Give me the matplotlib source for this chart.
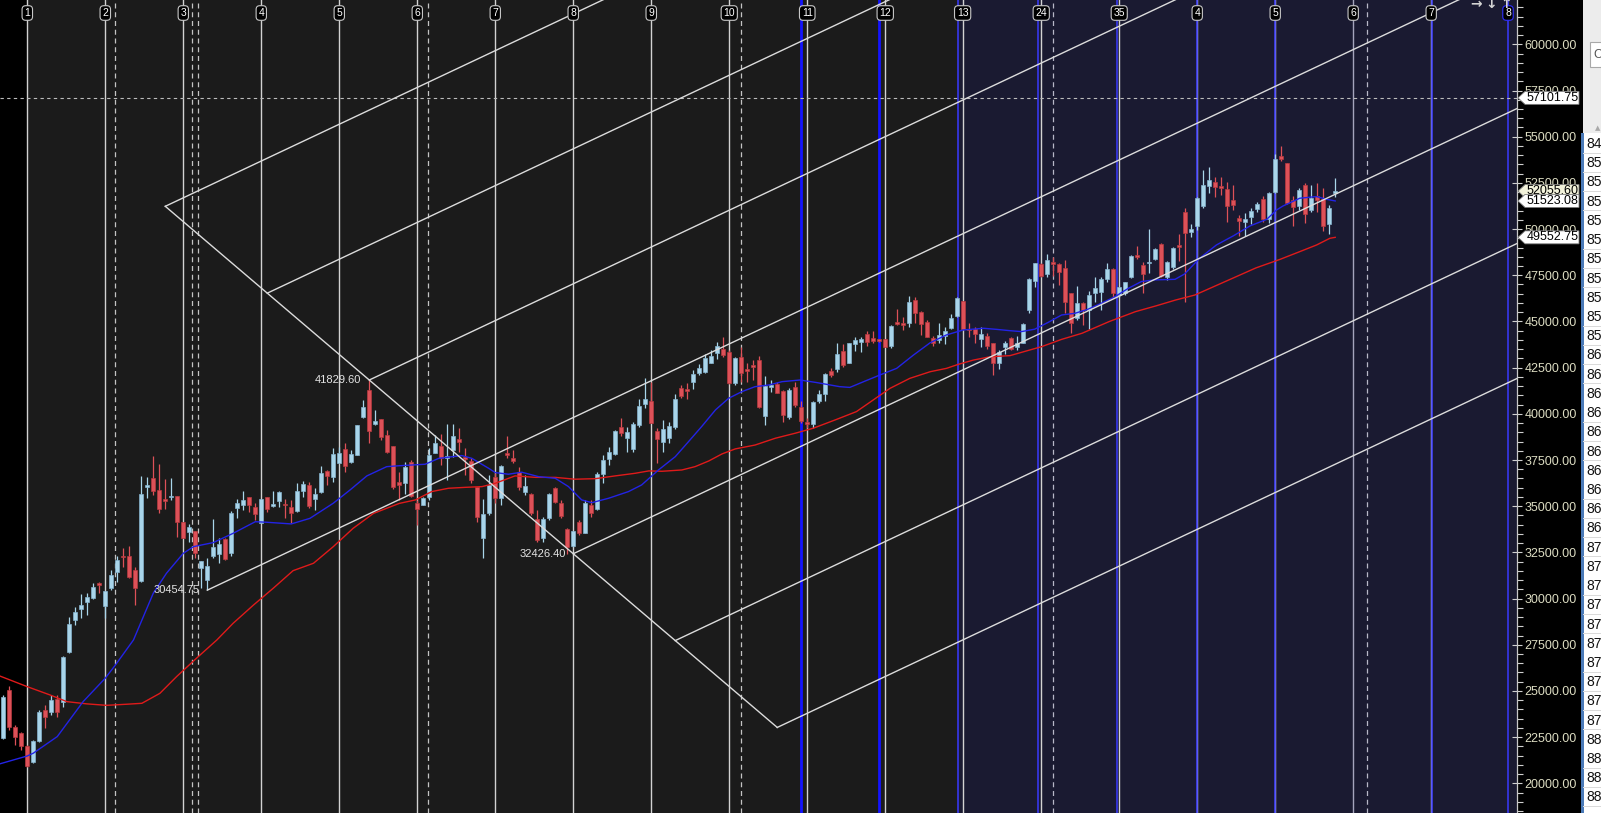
import numpy as np
import matplotlib
matplotlib.use("Agg")
import matplotlib.pyplot as plt
from matplotlib.patches import Polygon, Rectangle
from matplotlib.transforms import blended_transform_factory
from matplotlib.ticker import FormatStrFormatter, MultipleLocator

plt.rcParams['font.family'] = ['Liberation Sans', 'DejaVu Sans']

# ---- OHLC per bar ----
opens = [22440, 25050, 23030, 22710, 22040, 21170, 22310, 23970, 23880, 24570,
         24420, 27090, 28840, 29440, 29830, 30050, 30830, 29620, 30560, 31460,
         32300, 32300, 31550, 30950, 36060, 36510, 35880, 35390, 35480, 35550,
         34150, 33620, 33660, 31640, 30990, 32320, 32400, 33210, 32450, 34890,
         35070, 35480, 34940, 34110, 35480, 35030, 35300, 35100, 34940, 34760,
         35820, 36130, 35390, 35790, 36920, 36600, 37360, 38080, 37410, 37770,
         39810, 41300, 39430, 39720, 38850, 38260, 36330, 36240, 37380, 35160,
         35070, 35520, 37900, 38260, 37590, 38040, 38620, 37680, 37450, 36020,
         33300, 34650, 36560, 35460, 37900, 37590, 36870, 35790, 35660, 34290,
         33260, 34350, 35970, 35160, 33770, 32850, 34130, 33570, 35070, 34830,
         36740, 37560, 37830, 39310, 38710, 38080, 39400, 40530, 40700, 39070,
         38460, 38680, 39310, 41380, 41290, 41740, 42190, 42280, 42770, 43280,
         43490, 43370, 41690, 43060, 42430, 42640, 42910, 39880, 41470, 41600,
         41250, 39810, 41430, 40350, 39540, 39430, 40710, 41070, 42340, 42410,
         43420, 42770, 43780, 43910, 44320, 44090, 44030, 44030, 43670, 44990,
         44940, 44940, 46160, 45530, 44990, 44120, 44000, 44230, 44630, 45320,
         46110, 44580, 44580, 44070, 44210, 43820, 42740, 43640, 44090, 43600,
         43850, 45620, 47210, 48110, 47570, 48200, 48090, 47880, 46520, 45170,
         45980, 45620, 46560, 46610, 47320, 47820, 46430, 46520, 47390, 48600,
         48060, 48150, 48360, 49190, 47390, 47930, 49140, 50910, 49830, 50170,
         51250, 52330, 52570, 52330, 52170, 51580, 50600, 50380, 50670, 51090,
         51610, 50530, 52030, 53960, 53580, 51580, 51250, 52390, 51030, 51790,
         51610, 50280, 51970]
highs = [24800, 25270, 23160, 22800, 22060, 22350, 23950, 24240, 24780, 24780,
         26890, 29020, 29560, 30230, 30290, 30860, 30920, 30430, 31550, 32320,
         32720, 32850, 31730, 36640, 36600, 37720, 37280, 36470, 36510, 35560,
         34160, 34020, 33680, 32030, 32180, 34290, 33260, 33260, 34740, 35410,
         35820, 35520, 35190, 35400, 35520, 35820, 35840, 35390, 35340, 36270,
         36360, 36330, 35970, 37190, 36960, 38130, 38220, 38400, 38040, 39420,
         40750, 41830, 40210, 39740, 39120, 38270, 36870, 37410, 37500, 35340,
         35520, 38130, 38860, 38890, 39450, 39450, 39220, 38130, 37590, 36040,
         35370, 36690, 36780, 37230, 38800, 38040, 37140, 36690, 35700, 34800,
         34440, 35730, 36060, 35340, 33800, 33680, 34260, 35340, 35340, 36870,
         37770, 38220, 39130, 39790, 39310, 39580, 40790, 41920, 41740, 39220,
         39670, 39580, 41070, 41560, 41650, 42370, 42680, 43220, 43460, 43910,
         44140, 43460, 43060, 43600, 42730, 42910, 43130, 42050, 41830, 41740,
         41290, 41380, 41740, 40690, 39760, 40690, 41290, 42230, 42460, 43820,
         43780, 43850, 44180, 44140, 44500, 44470, 44070, 44070, 44810, 45660,
         45260, 46380, 46310, 45570, 45080, 44210, 44940, 44720, 45400, 46340,
         46130, 44940, 44720, 44720, 44360, 43850, 43460, 43960, 44140, 44210,
         44940, 47340, 48180, 48150, 48650, 48510, 48150, 48330, 46560, 46920,
         46070, 46670, 47430, 47430, 48150, 47880, 46880, 47160, 48600, 49090,
         48240, 49990, 48960, 49270, 48270, 49050, 49730, 51120, 50260, 51760,
         53200, 53380, 52840, 52800, 52570, 52390, 50760, 50850, 51120, 51480,
         51790, 52030, 54060, 54500, 53600, 51790, 52210, 52480, 52390, 52510,
         52210, 51300, 52750]
lows = [22400, 22890, 22080, 21810, 20900, 21080, 22250, 22980, 23700, 23610,
        24150, 27040, 28570, 28930, 29110, 29960, 30320, 28930, 30470, 30920,
        31730, 31100, 29650, 30920, 35430, 35610, 34650, 34850, 35340, 33350,
        33290, 33080, 32180, 30560, 30455, 32180, 31910, 32090, 32300, 34380,
        34800, 34700, 34250, 34070, 34700, 34980, 34980, 34340, 34110, 34700,
        35520, 34890, 34800, 35730, 36150, 36330, 37320, 36870, 37360, 37750,
        39760, 38440, 39400, 38580, 37860, 35910, 35340, 35660, 35520, 33980,
        35050, 35340, 37860, 37230, 36420, 37680, 37950, 36690, 36240, 34170,
        32180, 34530, 35160, 35070, 37590, 37320, 35880, 35610, 34530, 33080,
        33080, 34260, 35190, 34350, 32426, 32810, 33440, 33530, 34440, 34800,
        36240, 37230, 37770, 38800, 37950, 37950, 39270, 40300, 39490, 37360,
        37950, 38440, 39160, 40840, 40790, 41330, 42100, 42190, 42730, 42950,
        43090, 41620, 41560, 41740, 41740, 41830, 40300, 39400, 41200, 41110,
        39580, 39700, 40350, 39490, 39220, 39250, 40570, 40710, 41980, 42280,
        42550, 42740, 43420, 43370, 43670, 43820, 43890, 43600, 43550, 44810,
        44540, 44680, 44940, 44270, 44140, 43670, 43820, 43780, 44580, 45230,
        44540, 44180, 43820, 43640, 43490, 42100, 42410, 43240, 43460, 43460,
        43820, 45480, 46880, 47430, 47430, 47460, 46970, 45480, 44400, 45080,
        44810, 44580, 46070, 45620, 47160, 46250, 46340, 46430, 47340, 48380,
        46560, 47610, 48330, 47430, 47250, 47820, 48290, 46070, 49550, 49950,
        51120, 51940, 51760, 51850, 50400, 51030, 49630, 49630, 50280, 50940,
        50400, 50350, 51940, 53700, 51360, 50170, 51030, 50310, 50940, 50940,
        49920, 49730, 51760]
closes = [24650, 23030, 22490, 22040, 20960, 22310, 23880, 23570, 24510, 23880,
          26860, 28620, 29270, 29650, 30100, 30610, 30740, 30410, 31280, 32090,
          32230, 31190, 30560, 35640, 36150, 35840, 34830, 35280, 35550, 34160,
          33300, 33880, 32450, 32020, 31760, 32810, 32950, 32140, 34610, 35160,
          35340, 35070, 34580, 35390, 34830, 35100, 35750, 35050, 34610, 35820,
          36180, 35010, 35660, 36780, 36640, 37830, 37900, 37190, 37830, 39400,
          40350, 39090, 39630, 38730, 37950, 36020, 36150, 37100, 35550, 34870,
          35460, 37770, 38400, 37590, 37720, 38800, 38490, 37560, 36420, 34400,
          34580, 36150, 35430, 37180, 37760, 37470, 36060, 36100, 34620, 33170,
          34290, 35660, 35250, 34470, 32780, 33660, 33530, 35160, 34650, 36740,
          37500, 37940, 39050, 38980, 39000, 39450, 40430, 40790, 39520, 38620,
          39160, 39340, 40790, 40970, 41250, 42160, 42500, 43040, 43130, 43670,
          43190, 41650, 43000, 42230, 42340, 42520, 40390, 41510, 41560, 41150,
          39940, 41290, 40480, 39630, 39430, 40620, 41060, 42160, 42100, 43240,
          42650, 43820, 44000, 44050, 43890, 43960, 43930, 43640, 44760, 44860,
          44810, 46070, 45480, 44860, 44180, 43850, 44270, 44500, 45170, 46250,
          44580, 44540, 44320, 44320, 43670, 42770, 43370, 43850, 43490, 43820,
          44860, 47280, 48150, 47480, 48330, 48110, 47700, 46070, 44900, 45980,
          45620, 46430, 46790, 47280, 47820, 46520, 46850, 47120, 48540, 48470,
          47570, 48200, 48910, 47460, 48200, 48960, 49010, 49810, 50010, 51670,
          52390, 52660, 52260, 52210, 51270, 51300, 50460, 50550, 50980, 51360,
          50530, 51970, 53790, 53790, 51430, 51180, 52120, 50800, 51670, 51580,
          50190, 51120, 52056]

# ---- moving averages, sampled along the drawn curves ----
blue_ma_bar = [-0.6, 4, 5, 9, 13.3, 17, 18.7, 21.7, 25, 27.2,
               30, 31.7, 35, 38.3, 42, 43.9, 48, 51.1, 55, 57.8,
               60.6, 63.9, 66, 70.3, 72.6, 76.4, 78.1, 80.9, 82, 84.2,
               86.4, 89.2, 92, 94.2, 96.4, 98.1, 100.9, 104.2, 106.4, 109.2,
               112, 114.2, 116.4, 118.7, 120.9, 123.1, 125.3, 127.6, 129.8, 132.8,
               135.6, 139.4, 141.1, 143.4, 146.1, 148.9, 151.7, 154.5, 157.2, 160,
               163.4, 165.6, 167.8, 169.7, 171.9, 174.1, 176.4, 178.6, 180.8, 183,
               185.3, 187.5, 189.7, 191.9, 195.3, 196.9, 199.4, 202.2, 205, 207.8,
               210.6, 212.2, 213.3, 216.1, 218.9, 220.6, 222]
blue_ma_val = [21050, 21480, 21630, 22530, 24420, 25690, 26410, 27760, 30290, 31370,
               32450, 32810, 33030, 33530, 34160, 34130, 34040, 34340, 35160, 35880,
               36640, 37140, 37190, 37270, 37590, 37740, 37590, 37050, 36820, 36730,
               36840, 36600, 36510, 36060, 35340, 35190, 35430, 35790, 36150, 36960,
               37680, 38490, 39310, 40210, 40840, 41200, 41470, 41560, 41740, 41830,
               41690, 41470, 41430, 41740, 42100, 42460, 43180, 43850, 44270, 44540,
               44630, 44570, 44500, 44450, 44580, 44940, 45350, 45440, 45660, 45980,
               46340, 46790, 47160, 47250, 47280, 47570, 48420, 49140, 49630, 50170,
               50530, 51030, 51250, 51670, 51760, 51610, 51523]
red_ma_bar = [-0.6, 4, 7.8, 10.6, 13.9, 17.2, 20.6, 23.1, 26.1, 28.9,
              32.2, 35.6, 38.3, 41.7, 45, 48.3, 51.7, 55, 58.3, 61.7,
              66, 68.7, 71.4, 74.2, 77, 79.8, 82, 85.3, 88.7, 92,
              95.3, 98.7, 102, 105.3, 107.6, 109.8, 113.1, 115.3, 117.6, 119.8,
              122, 125.3, 128.7, 132, 135, 138.9, 142.2, 145, 147.8, 151.1,
              154.5, 157.2, 159.2, 161.7, 164.5, 167.8, 173.1, 176.4, 179.8, 184.3,
              188.7, 192.1, 195.4, 198.6, 208.8, 212.8, 216.1, 218.9, 221.1, 222]
red_ma_val = [25810, 25230, 24780, 24420, 24300, 24220, 24280, 24330, 24870, 25780,
              26770, 27760, 28660, 29650, 30560, 31510, 31910, 32810, 33800, 34610,
              35150, 35340, 35790, 35970, 36020, 36060, 36240, 36640, 36560, 36560,
              36460, 36490, 36640, 36780, 36910, 36890, 36960, 37140, 37450, 37830,
              38100, 38310, 38680, 38950, 39220, 39700, 40120, 40750, 41380, 41920,
              42280, 42460, 42680, 42910, 43090, 43150, 43640, 44030, 44360, 44990,
              45530, 45840, 46160, 46430, 47900, 48360, 48780, 49140, 49500, 49553]

# ---- drawing tool anchors (bar, price) ----
pivot_hi = (61, 41829.60)
pivot_lo = (95, 32426.40)
pivot_mid = (34, 30454.75)
diag_bars = [27, 129]
channel_from_diag = [27, 44, 61, 95, 112, 129]
channel_slope = 153.2          # price per bar
crosshair_price = 57101.75
price_tags = [57101.75, 52055.60, 51523.08, 49552.75]
tag_faces = ['#ffffff', '#f2f2da', '#ffffff', '#ffffff']

# ---- cycle markers ----
white_cycle_bars = [4 + 13 * k for k in range(19)]
blue_cycle_bars = [159.2, 172.4, 185.6, 198.9, 212.0, 238.1, 250.8]
blue_extra_bars = [132.9, 146.0]
dashed_bars = [18.7, 31.5, 32.5, 70.8, 123.0, 175.0, 227.3]
top_label_bars = [4, 17, 30, 43, 56, 69, 82, 95, 108, 121, 134, 147,
                  159.9, 173, 186, 199, 212, 225, 238, 250.8]
top_label_texts = ['1', '2', '3', '4', '5', '6', '7', '8', '9', '10', '11', '12',
                   '13', '24', '35', '4', '5', '6', '7', '8']
row_labels = ['84'] + ['85'] * 10 + ['86'] * 10 + ['87'] * 10 + ['88'] * 4

W, H = 1601, 813
YMIN, YMAX = 18392, 62400
XMIN, XMAX = -0.55, 252.3
AX_RIGHT = 1517

fig = plt.figure(figsize=(W / 100, H / 100), dpi=100, facecolor='black')
ax = fig.add_axes([0, 0, AX_RIGHT / W, 1])
ax.set_facecolor('#1b1b1b')
ax.set_xlim(XMIN, XMAX)
ax.set_ylim(YMIN, YMAX)

# background zones
ax.axvspan(XMIN, 4, color='black', zorder=0, lw=0)
ax.axvspan(159.2, XMAX, color='#1a1a31', zorder=0, lw=0)

# vertical cycle lines
for b in white_cycle_bars:
    col = '#a4a4bc' if b == 225 else '#d2d2d2'
    ax.axvline(b, color=col, lw=1.0, zorder=1)
for b in dashed_bars:
    col = '#b8b8c8' if b > 159 else '#c4c4c4'
    ax.axvline(b, color=col, lw=0.9, ls=(0, (4, 3)), zorder=1)
for b in blue_extra_bars:
    ax.axvline(b, color='#1414ff', lw=2.0, zorder=1)
for b in blue_cycle_bars:
    ax.axvline(b, color='#3a3aff', lw=1.1, zorder=1)

ax.axhline(crosshair_price, color='#bcbcbc', lw=0.8, ls=(0, (3, 3)), zorder=2)

# candles
o = np.array(opens, float)
h = np.array(highs, float)
l = np.array(lows, float)
c = np.array(closes, float)
idx = np.arange(len(o))
up = c >= o
face = np.where(up, '#a9d5ea', '#dd5158')
edge = np.where(up, '#86b4cf', '#b8393f')
ax.vlines(idx, l, h, colors=face, lw=0.9, zorder=4)
body_lo = np.minimum(o, c)
body_h = np.maximum(np.abs(c - o), 70)
ax.bar(idx, body_h, bottom=body_lo, width=0.68, color=face, edgecolor=edge,
       linewidth=0.5, zorder=5)

# moving averages
ax.plot(red_ma_bar, red_ma_val, color='#e01a1a', lw=1.0, zorder=6)
ax.plot(blue_ma_bar, blue_ma_val, color='#2323e6', lw=1.0, zorder=6)

# diagonal + parallel channel lines
slope_diag = (pivot_lo[1] - pivot_hi[1]) / (pivot_lo[0] - pivot_hi[0])
def diag_price(b):
    return pivot_hi[1] + slope_diag * (b - pivot_hi[0])

ax.plot(diag_bars, [diag_price(b) for b in diag_bars], color='#dcdcdc', lw=1.0, zorder=7)
far = 300
for b in channel_from_diag:
    p0 = diag_price(b)
    ax.plot([b, far], [p0, p0 + channel_slope * (far - b)], color='#dcdcdc', lw=1.0, zorder=7)
ax.plot([pivot_mid[0], far], [pivot_mid[1], pivot_mid[1] + channel_slope * (far - pivot_mid[0])],
        color='#dcdcdc', lw=1.0, zorder=7)

# pivot labels
for (b, p) in [pivot_mid, pivot_hi, pivot_lo]:
    ax.text(b - 1.3, p, f'{p:.2f}', color='#e4e4e4', fontsize=8, ha='right', va='center', zorder=8)

# cycle number boxes at top
btrans = blended_transform_factory(ax.transData, ax.transAxes)
for b, t in zip(top_label_bars, top_label_texts):
    ec = '#3030ff' if b > 250 else '#c8c8c8'
    ax.text(b, 0.984, t, transform=btrans, ha='center', va='center', fontsize=7.5,
            color='white', zorder=9, clip_on=True,
            bbox=dict(boxstyle='round,pad=0.22,rounding_size=0.35', fc='black', ec=ec, lw=0.8))

# right price axis
ax.yaxis.tick_right()
ax.set_yticks(np.arange(20000, 60001, 2500))
ax.yaxis.set_major_formatter(FormatStrFormatter('%.2f'))
ax.yaxis.set_minor_locator(MultipleLocator(500))
ax.tick_params(axis='y', which='major', direction='inout', length=7, width=0.8,
               color='#d0d0d0', labelcolor='#dcdcc2', labelsize=9, pad=2)
ax.tick_params(axis='y', which='minor', direction='out', length=4, width=0.8, color='#d0d0d0')
ax.tick_params(axis='x', bottom=False, labelbottom=False)
for s in ['top', 'bottom', 'left']:
    ax.spines[s].set_visible(False)
ax.spines['right'].set_color('#c8c8c8')
ax.spines['right'].set_linewidth(0.9)

# price tags on the axis
def yfrac(p):
    return (p - YMIN) / (YMAX - YMIN)

hh = 6.5 / H
for p, fc in zip(price_tags, tag_faces):
    yf = yfrac(p)
    x0, x1, x2 = 1518 / W, 1525 / W, 1579 / W
    poly = Polygon([(x0, yf), (x1, yf + hh), (x2, yf + hh), (x2, yf - hh), (x1, yf - hh)],
                   closed=True, transform=fig.transFigure, fc=fc, ec='#7a7a7a', lw=0.6, zorder=20)
    fig.add_artist(poly)
    fig.text(1527 / W, yf, f'{p:.2f}', fontsize=9, color='black', va='center', ha='left', zorder=21)

# toolbar arrows top right
for xp, ch in [(1476, '→'), (1491, '↓'), (1506, '↑')]:
    fig.text(xp / W, 1 - 4 / H, ch, family='DejaVu Sans', fontweight='bold', fontsize=10,
             color='#d4d4d4', ha='center', va='center', zorder=22)

# side table panel on the far right
fig.add_artist(Rectangle((1583 / W, 0), 1 - 1583 / W, 1, transform=fig.transFigure,
                         fc='#ffffff', ec='none', zorder=15))
fig.add_artist(Rectangle((1583 / W, 1 - 133 / H), 1 - 1583 / W, 133 / H, transform=fig.transFigure,
                         fc='#ececec', ec='none', zorder=16))
fig.add_artist(Rectangle((1590 / W, 1 - 67 / H), 12 / W, 25 / H, transform=fig.transFigure,
                         fc='#ffffff', ec='#a8a8a8', lw=0.8, zorder=17))
fig.text(1593 / W, 1 - 55 / H, 'C', fontsize=9, color='#555555', va='center', zorder=18)
fig.text(1598 / W, 1 - 128 / H, '▲', family='DejaVu Sans', fontsize=5, color='#a8a8a8',
         va='center', ha='center', zorder=18)
fig.add_artist(Rectangle((1581 / W, 0), 2.5 / W, 1 - 133 / H, transform=fig.transFigure,
                         fc='#4a7ab8', ec='none', zorder=17))
for k, lab in enumerate(row_labels):
    yp = 144 + 19.22 * k
    fig.text(1586 / W, 1 - yp / H, lab, fontsize=10, color='#111111', va='center', zorder=18)
    fig.add_artist(Rectangle((1583 / W, 1 - (yp + 9.6) / H), 1 - 1583 / W, 0.8 / H,
                             transform=fig.transFigure, fc='#dadada', ec='none', zorder=17))

fig.savefig('out.png', dpi=100, facecolor='black')
